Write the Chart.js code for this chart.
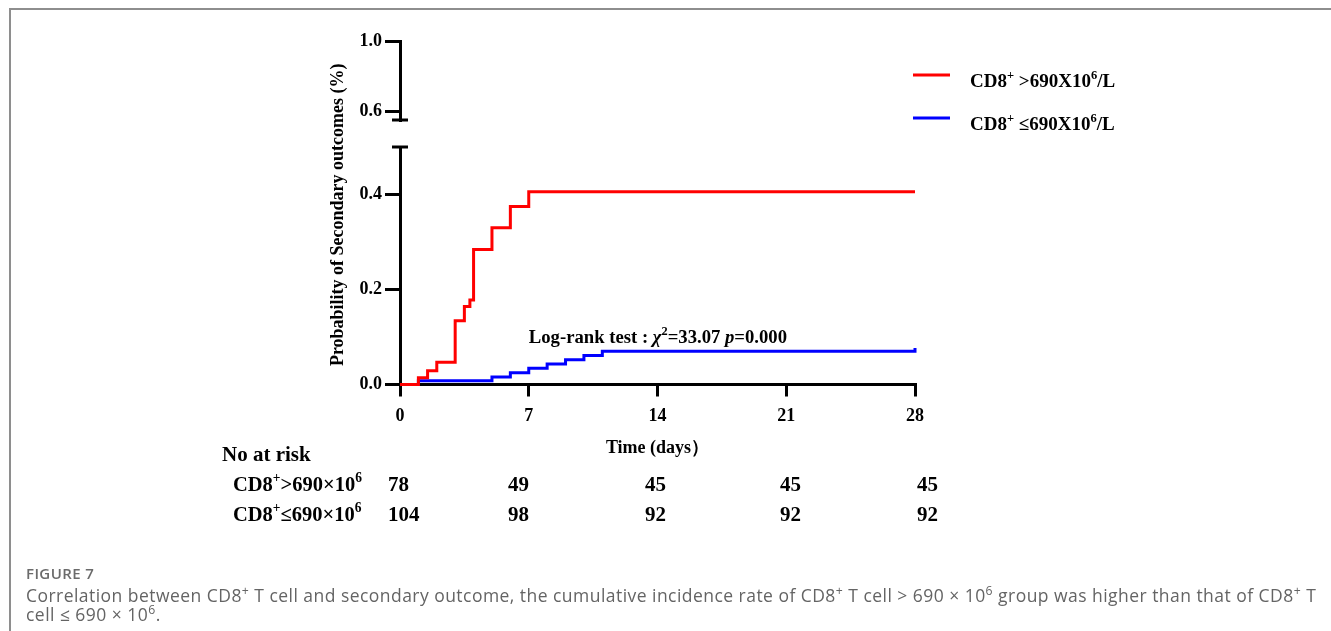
<!DOCTYPE html>
<html>
<head>
<meta charset="utf-8">
<script src="https://cdn.jsdelivr.net/npm/chart.js@4.4.0/dist/chart.umd.min.js"></script>
<style>
  html, body { margin: 0; padding: 0; background: #fff; }
  body { width: 1331px; height: 631px; position: relative; overflow: hidden; }
  #frame { position: absolute; left: 9px; top: 8px; right: -4px; bottom: -4px;
           border-top: 2px solid #8e8e8e; border-left: 2px solid #8e8e8e; }
  #chart { position: absolute; left: 0; top: 0; }
  .cap { position: absolute; left: 26px; font-family: "Open Sans", sans-serif; }
  #figno { top: 563px; font-size: 15px; font-weight: 600; letter-spacing: 0.4px; color: #6b6b6b; }
  #captxt { top: 586px; font-size: 17.5px; line-height: 19px; letter-spacing: 0.46px; color: #646464; white-space: nowrap; }
  #captxt sup { font-size: 0.7em; line-height: 0; vertical-align: 0.55em; }
</style>
</head>
<body>
<div id="frame"></div>
<canvas id="chart" width="1331" height="631"></canvas>
<div class="cap" id="figno">FIGURE 7</div>
<div class="cap" id="captxt">Correlation between CD8<sup>+</sup> T cell and secondary outcome, the cumulative incidence rate of CD8<sup>+</sup> T cell &gt; 690 × 10<sup>6</sup> group was higher than that of CD8<sup>+</sup> T<br>cell ≤ 690 × 10<sup>6</sup>.</div>
<script>
// tick labels
const xTicks = [0, 7, 14, 21, 28];
const yLowTicks = [0, 0.2, 0.4];
const yTopTicks = [0.6, 1.0];

// cumulative incidence, CD8+ > 690
const highDays = [0, 1, 1.5, 2, 3, 3.5, 3.8, 4, 5, 6, 7, 28];
const highProb = [0, 0.014, 0.029, 0.047, 0.134, 0.164, 0.178, 0.284, 0.330, 0.375, 0.406, 0.406];
// cumulative incidence, CD8+ <= 690
const lowDays = [0, 1, 5, 6, 7, 8, 9, 10, 11, 28];
const lowProb = [0, 0.008, 0.016, 0.025, 0.034, 0.043, 0.052, 0.061, 0.070, 0.077];

// legend labels (rich text parts)
const highLabel = [['CD8'], ['+', 'sup'], [' >690X10'], ['6', 'sup'], ['/L']];
const lowLabel = [['CD8'], ['+', 'sup'], [' ≤690X10'], ['6', 'sup'], ['/L']];

// number at risk
const riskHigh = [78, 49, 45, 45, 45];
const riskLow = [104, 98, 92, 92, 92];
const riskHighName = [['CD8'], ['+', 'sup'], ['>690×10'], ['6', 'sup']];
const riskLowName = [['CD8'], ['+', 'sup'], ['≤690×10'], ['6', 'sup']];

const logRank = [['Log-rank test : '], ['χ', 'i'], ['2', 'sup'], ['=33.07 '], ['p', 'i'], ['=0.000']];

const FONT = '"Liberation Serif", "Times New Roman", serif';

function pts(xs, ys) {
    return xs.map((x, i) => ({x: x, y: ys[i]}));
}

function drawRich(ctx, parts, x, y, size) {
    ctx.save();
    ctx.textBaseline = 'alphabetic';
    ctx.textAlign = 'left';
    ctx.fillStyle = '#000';
    let cx = x;
    parts.forEach(([t, s]) => {
        const fs = s === 'sup' ? size * 0.66 : size;
        ctx.font = (s === 'i' ? 'italic ' : '') + 'bold ' + fs + 'px ' + FONT;
        ctx.fillText(t, cx, s === 'sup' ? y - size * 0.42 : y);
        cx += ctx.measureText(t).width;
    });
    ctx.restore();
}

const extras = {
    id: 'extras',
    afterDraw(chart) {
        const ctx = chart.ctx;
        const area = chart.chartArea;
        const xs = chart.scales.x;
        const ys = chart.scales.y;
        const yt = chart.scales.yTop;

        // axis break caps
        ctx.save();
        ctx.strokeStyle = '#000';
        ctx.lineWidth = 3;
        [yt.bottom, ys.top].forEach(py => {
            ctx.beginPath();
            ctx.moveTo(area.left - 8, py);
            ctx.lineTo(area.left + 8, py);
            ctx.stroke();
        });
        ctx.restore();

        // y title
        ctx.save();
        ctx.translate(338, (area.top + area.bottom) / 2 + 2);
        ctx.rotate(-Math.PI / 2);
        ctx.font = 'bold 18px ' + FONT;
        ctx.fillStyle = '#000';
        ctx.textAlign = 'center';
        ctx.textBaseline = 'middle';
        ctx.fillText('Probability of Secondary outcomes (%)', 0, 0);
        ctx.restore();

        // log-rank annotation
        drawRich(ctx, logRank, xs.getPixelForValue(7), ys.getPixelForValue(0.1) + 6, 18.7);

        // legend
        [[highLabel, '#ff0000', 75], [lowLabel, '#0000ff', 118]].forEach(([lab, col, ly]) => {
            ctx.save();
            ctx.strokeStyle = col;
            ctx.lineWidth = 3;
            ctx.beginPath();
            ctx.moveTo(913, ly);
            ctx.lineTo(950, ly);
            ctx.stroke();
            ctx.restore();
            drawRich(ctx, lab, 970, ly + 12, 19);
        });

        // number at risk table
        drawRich(ctx, [['No at risk']], 222, 461, 21);
        drawRich(ctx, riskHighName, 233, 491, 20.5);
        drawRich(ctx, riskLowName, 233, 521, 20.5);
        const cols = [388, 508, 645, 780, 917];
        cols.forEach((cx, i) => {
            drawRich(ctx, [[String(riskHigh[i])]], cx, 491, 21);
            drawRich(ctx, [[String(riskLow[i])]], cx, 521, 21);
        });
    }
};

const axisLine = {display: true, color: '#000', width: 3};
const tickFont = {family: FONT, size: 18, weight: 'bold'};

const ctx = document.getElementById('chart').getContext('2d');

const chart = new Chart(ctx, {
    type: 'line',
    data: {
        datasets: [{
            label: 'CD8+>690X10^6/L',
            data: pts(highDays, highProb),
            xAxisID: 'x',
            yAxisID: 'y',
            borderColor: '#ff0000',
            borderWidth: 3,
            stepped: true,
            pointRadius: 0,
            fill: false,
            clip: false
        }, {
            label: 'CD8+<=690X10^6/L',
            data: pts(lowDays, lowProb),
            xAxisID: 'x',
            yAxisID: 'y',
            borderColor: '#0000ff',
            borderWidth: 3,
            stepped: true,
            pointRadius: 0,
            fill: false,
            clip: false
        }]
    },
    options: {
        responsive: false,
        animation: false,
        devicePixelRatio: 1,
        layout: {padding: {left: 310, right: 416, top: 41, bottom: 171.5}},
        plugins: {legend: {display: false}, tooltip: {enabled: false}},
        scales: {
            x: {
                type: 'linear',
                min: 0,
                max: 28,
                afterBuildTicks: s => { s.ticks = xTicks.map(v => ({value: v})); },
                afterFit: s => { s.height = 75; },
                border: axisLine,
                grid: {drawOnChartArea: false, drawTicks: true, tickLength: 12, color: '#000', lineWidth: 3},
                ticks: {autoSkip: false, maxRotation: 0, padding: 9, color: '#000', font: tickFont},
                title: {display: true, text: 'Time (days）', color: '#000', font: tickFont, padding: 0}
            },
            yTop: {
                type: 'linear',
                axis: 'y',
                position: 'left',
                stack: 'left',
                stackWeight: 79,
                weight: 3,
                min: 0.55,
                max: 1.0,
                afterBuildTicks: s => { s.ticks = yTopTicks.map(v => ({value: v})); },
                afterFit: s => { s.width = 90; },
                border: axisLine,
                grid: {drawOnChartArea: false, drawTicks: true, tickLength: 15, color: '#000', lineWidth: 3},
                ticks: {autoSkip: false, padding: 3, color: '#000', font: tickFont, callback: v => v.toFixed(1)}
            },
            yGap: {
                type: 'linear',
                axis: 'y',
                position: 'left',
                stack: 'left',
                stackWeight: 27,
                weight: 2,
                min: 0,
                max: 1,
                afterFit: s => { s.width = 90; },
                border: {display: false},
                grid: {display: false},
                ticks: {display: false}
            },
            y: {
                type: 'linear',
                position: 'left',
                stack: 'left',
                stackWeight: 237.5,
                weight: 1,
                min: 0,
                max: 0.5,
                afterBuildTicks: s => { s.ticks = yLowTicks.map(v => ({value: v})); },
                afterFit: s => { s.width = 90; },
                border: axisLine,
                grid: {drawOnChartArea: false, drawTicks: true, tickLength: 15, color: '#000', lineWidth: 3},
                ticks: {autoSkip: false, padding: 3, color: '#000', font: tickFont, callback: v => v.toFixed(1)}
            }
        }
    },
    plugins: [extras]
});
</script>
</body>
</html>
